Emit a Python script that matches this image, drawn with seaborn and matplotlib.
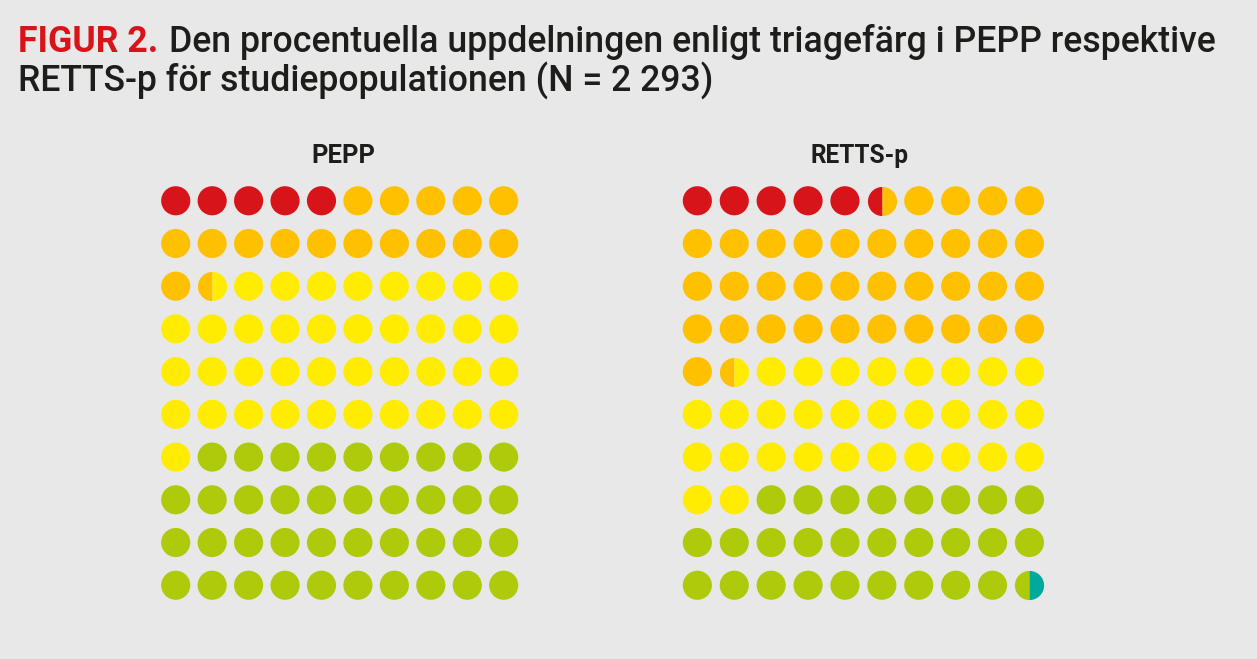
import numpy as np
import pandas as pd
import matplotlib.pyplot as plt
import seaborn as sns

# Triage colour categories and share (%) per system
categories = ['Röd', 'Orange', 'Gul', 'Grön', 'Blå']
colors = ['#d7141a', '#ffc000', '#ffec00', '#afca0b', '#00a99d']
pepp_pct = [5, 16.5, 39.5, 39, 0]
retts_pct = [5.5, 36, 30.5, 27.5, 0.5]
panel_titles = ['PEPP', 'RETTS-p']

bg = '#e8e8e8'
ink = '#1d1d1b'
palette = dict(zip(categories, colors))


def build_cells(pct):
    # 100 dots, each dot split in a left and right half
    edges = np.cumsum(pct)
    rows = []
    for i in range(100):
        left = categories[np.searchsorted(edges, i + 0.25)]
        right = categories[np.searchsorted(edges, i + 0.75)]
        rows.append({'row': i // 10, 'col': i % 10, 'left': left, 'right': right})
    return pd.DataFrame(rows)


sns.set_style('white')
plt.rcParams['font.family'] = ['Roboto', 'DejaVu Sans']

fig = plt.figure(figsize=(12.57, 6.59), dpi=100)
fig.patch.set_facecolor(bg)
W, H = 1257, 659
renderer = fig.canvas.get_renderer()


def width_px(t):
    return t.get_window_extent(renderer).width


# panel boxes in pixels: (left, top, right, bottom) of the cell grid
boxes = [(157.5, 179.4, 521.9, 606.6), (678.9, 179.4, 1047.9, 606.6)]
title_x = [343, 859]

for pct, box, title, tx in zip([pepp_pct, retts_pct], boxes, panel_titles, title_x):
    l, t, r, b = box
    ax = fig.add_axes([l / W, 1 - b / H, (r - l) / W, (b - t) / H])
    ax.set_facecolor(bg)
    df = build_cells(pct)
    full = df[df['left'] == df['right']]
    half = df[df['left'] != df['right']]
    sns.scatterplot(data=full, x='col', y='row', hue='left', palette=palette,
                    s=440, linewidth=0, legend=False, ax=ax)
    for _, c in half.iterrows():
        ax.plot(c['col'], c['row'], marker='o', markersize=21, fillstyle='left',
                markerfacecolor=palette[c['left']],
                markerfacecoloralt=palette[c['right']],
                markeredgewidth=0, linestyle='none')
    ax.set_xlim(-0.5, 9.5)
    ax.set_ylim(9.5, -0.5)
    ax.axis('off')
    pt = fig.text(tx / W, 1 - 163 / H, title, ha='center', va='baseline',
                  fontsize=20, fontweight='bold', color=ink)
    target = 58 if title == 'PEPP' else 92
    pt.set_fontsize(20 * (target + 6) / width_px(pt))

# header: fit the first line between x=18 and x=1218
t1 = fig.text(18 / W, 1 - 52 / H, 'FIGUR 2.', color='#d7141a', fontsize=20,
              fontweight='bold', ha='left', va='baseline')
t2 = fig.text(0, 1 - 52 / H,
              'Den procentuella uppdelningen enligt triagefärg i PEPP respektive',
              color=ink, fontsize=20, fontweight='medium', ha='left', va='baseline')
gap = 0.3 * 20 * 100 / 72
scale = 1200 / (width_px(t1) + gap + width_px(t2))
fs = 20 * scale
t1.set_fontsize(fs)
t2.set_fontsize(fs)
t2.set_x((18 + width_px(t1) + gap * scale) / W)
fig.text(18 / W, 1 - 92 / H, 'RETTS-p för studiepopulationen (N = 2 293)',
         color=ink, fontsize=fs, fontweight='medium', ha='left', va='baseline')

fig.savefig('out.png', dpi=100, facecolor=bg)
